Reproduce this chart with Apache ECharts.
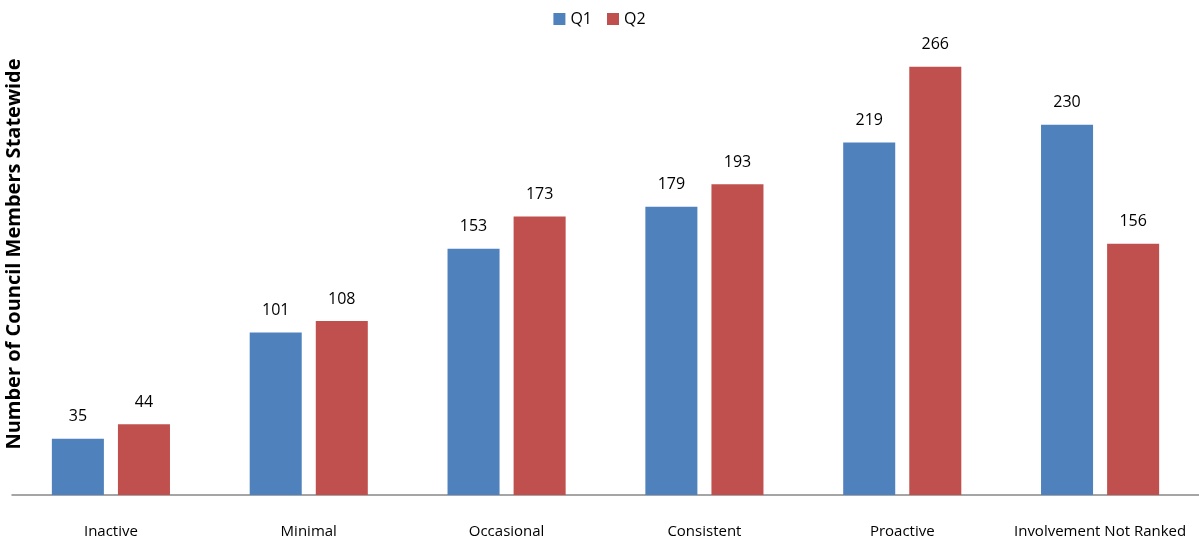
<!DOCTYPE html>
<html><head><meta charset="utf-8">
<script src="https://cdn.jsdelivr.net/npm/echarts@6/dist/echarts.min.js"></script>
<style>html,body{margin:0;padding:0;background:#fff}#c{width:1199px;height:544px}</style>
</head><body><div id="c"></div>
<script>
const categories = ['Inactive', 'Minimal', 'Occasional', 'Consistent', 'Proactive', 'Involvement Not Ranked'];
const q1 = [35, 101, 153, 179, 219, 230];
const q2 = [44, 108, 173, 193, 266, 156];
const yTitle = 'Number of Council Members Statewide';
const FONT = '"Open Sans", sans-serif';
const chart = echarts.init(document.getElementById('c'));
chart.setOption({
  animation: false,
  textStyle: { fontFamily: FONT },
  legend: {
    top: 6, left: 'center', itemWidth: 12, itemHeight: 12, itemGap: 15,
    icon: 'rect',
    textStyle: { fontSize: 16, color: '#000', fontFamily: FONT },
    data: ['Q1', 'Q2']
  },
  grid: { left: 12, right: 0, top: 12, bottom: 49, containLabel: false },
  xAxis: {
    type: 'category', data: categories,
    axisLine: { lineStyle: { color: '#888', width: 1.5 } },
    axisTick: { show: false },
    axisLabel: { interval: 0, color: '#000', fontSize: 15, margin: 29, fontFamily: FONT, hideOverlap: false }
  },
  yAxis: {
    type: 'value', min: 0, max: 300, interval: 50,
    show: false, splitLine: { show: false }
  },
  graphic: [{
    type: 'text', x: 4, y: 254, rotation: Math.PI / 2,
    style: { text: yTitle, fontSize: 20, fontWeight: 'bold', fill: '#000', fontFamily: FONT, align: 'center', verticalAlign: 'top' }
  }],
  series: [
    { name: 'Q1', type: 'bar', data: q1, barWidth: '26.3%', barGap: '27%',
      itemStyle: { color: '#4f81bd' },
      label: { show: true, position: 'top', distance: 14, fontSize: 16, color: '#000', fontFamily: FONT } },
    { name: 'Q2', type: 'bar', data: q2, barWidth: '26.3%',
      itemStyle: { color: '#c0504d' },
      label: { show: true, position: 'top', distance: 14, fontSize: 16, color: '#000', fontFamily: FONT } }
  ]
});
</script></body></html>
